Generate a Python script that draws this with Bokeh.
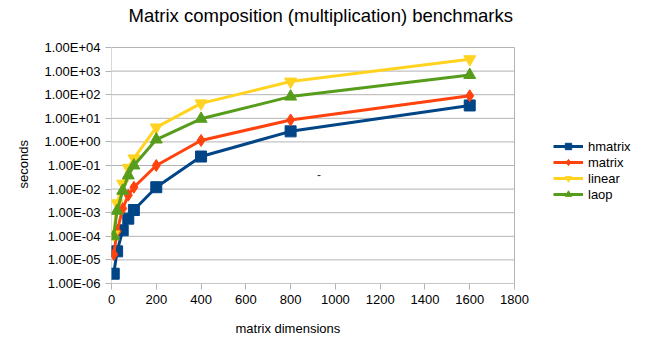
from bokeh.plotting import figure
from bokeh.models import (FixedTicker, CustomJSTickFormatter, Legend, LegendItem,
                          Label, Range1d, Title)
from bokeh.embed import file_html
from bokeh.resources import INLINE

# ---- data ----
sizes = [10, 25, 50, 75, 100, 200, 400, 800, 1600]
hmatrix = [2.6e-6, 2.3e-5, 1.8e-4, 5.6e-4, 1.3e-3, 1.2e-2, 0.24, 2.8, 35]
matrix = [1.7e-5, 1.6e-4, 1.5e-3, 5.5e-3, 1.2e-2, 0.1, 1.15, 8.5, 90]
linear = [1.2e-4, 2.5e-3, 1.7e-2, 8.0e-2, 0.2, 4.1, 43, 360, 3200]
laop = [1.0e-4, 1.2e-3, 8.5e-3, 3.8e-2, 0.1, 1.26, 9.5, 83, 680]

series_names = ["hmatrix", "matrix", "linear", "laop"]
x_ticks = [0, 200, 400, 600, 800, 1000, 1200, 1400, 1600, 1800]
y_ticks = [1e-6, 1e-5, 1e-4, 1e-3, 1e-2, 1e-1, 1e0, 1e1, 1e2, 1e3, 1e4]
y_tick_labels = ["1.00E-06", "1.00E-05", "1.00E-04", "1.00E-03", "1.00E-02",
                 "1.00E-01", "1.00E+00", "1.00E+01", "1.00E+02", "1.00E+03",
                 "1.00E+04"]

FONT = "Liberation Sans"
GRID = "#b3b3b3"

W, H = 645, 337
LEFT, RIGHT_EDGE, TOP, BOTTOM = 111, 514, 47, 283
FRAME_TOP = 25
# the frame spans to the right canvas edge (so the legend is not clipped) and a
# little above the top gridline (room for the title); the visible plot area is
# the rectangle bounded by the first/last ticks
x_end = x_ticks[0] + (x_ticks[-1] - x_ticks[0]) * (W - LEFT) / (RIGHT_EDGE - LEFT)
dec_per_px = 10 / (BOTTOM - TOP)
y_end = y_ticks[-1] * 10 ** ((TOP - FRAME_TOP) * dec_per_px)

p = figure(width=W, height=H, output_backend="svg", toolbar_location=None,
           y_axis_type="log", x_range=Range1d(x_ticks[0], x_end),
           y_range=Range1d(y_ticks[0], y_end),
           min_border_left=LEFT, min_border_right=0, min_border_top=FRAME_TOP,
           min_border_bottom=H - BOTTOM)

p.title.text = "Matrix composition (multiplication) benchmarks"
p.title.align = "left"
p.title.text_font = FONT
p.title.text_font_size = "18.5px"
p.title.text_font_style = "normal"
p.title.text_color = "#000000"
p.title.offset = 17
p.title.standoff = 0

p.outline_line_color = None
p.xgrid.grid_line_color = None
p.ygrid.grid_line_color = None

n = len(y_ticks)
# horizontal gridlines
p.segment(x0=[x_ticks[0]] * n, x1=[x_ticks[-1]] * n,
          y0=y_ticks, y1=y_ticks, line_color=GRID, line_width=1)
# left and right edges of the plot area
p.segment(x0=[x_ticks[0], x_ticks[-1]], x1=[x_ticks[0], x_ticks[-1]],
          y0=[y_ticks[0]] * 2, y1=[y_ticks[-1]] * 2,
          line_color=GRID, line_width=1)

p.xaxis.ticker = FixedTicker(ticks=x_ticks)
p.yaxis.ticker = FixedTicker(ticks=y_ticks)
p.yaxis.formatter = CustomJSTickFormatter(
    args=dict(vals=y_ticks, labs=y_tick_labels),
    code="""
    let best = 0, bd = 1e9;
    for (let i = 0; i < vals.length; i++) {
        const d = Math.abs(Math.log10(vals[i]) - Math.log10(tick));
        if (d < bd) { bd = d; best = i; }
    }
    return labs[best];
    """)

for ax in (p.xaxis[0], p.yaxis[0]):
    ax.axis_line_color = None
    ax.major_tick_line_color = GRID
    ax.minor_tick_line_color = None
    ax.major_tick_in = 0
    ax.major_tick_out = 6
    ax.major_label_text_font = FONT
    ax.major_label_text_font_size = "13px"
    ax.major_label_text_color = "#000000"
    ax.major_label_standoff = 5

# a blank axis label only reserves a little space below the tick labels
p.xaxis.axis_label = " "
p.xaxis.axis_label_text_font_size = "6px"
p.xaxis.axis_label_standoff = 3

p.segment(x0=[x_ticks[0]], x1=[x_ticks[-1]], y0=[y_ticks[0]], y1=[y_ticks[0]],
          line_color=GRID, line_width=1)

xlabel = Title(text="matrix dimensions", align="left", offset=124, standoff=0,
               text_font=FONT, text_font_size="13px", text_font_style="normal",
               text_color="#000000")
p.add_layout(xlabel, "below")

ylabel = Title(text="seconds", align="left", offset=95, standoff=22,
               text_font=FONT, text_font_size="13px", text_font_style="normal",
               text_color="#000000")
p.add_layout(ylabel, "left")

styles = [
    ("#004586", "square", 11),
    ("#ff420e", "diamond", 12),
    ("#ffd320", "inverted_triangle", 12),
    ("#579d1c", "triangle", 12),
]
data = [hmatrix, matrix, linear, laop]

items = []
for name, ys, (col, mk, sz) in zip(series_names, data, styles):
    l = p.line(sizes, ys, line_color=col, line_width=3)
    s = p.scatter(sizes, ys, marker=mk, size=sz, fill_color=col, line_color=col)
    items.append(LegendItem(label=name, renderers=[l, s]))

legend = Legend(items=items, location=(442, 81), padding=0, margin=0,
                spacing=0, glyph_width=30, glyph_height=16, label_height=16,
                label_standoff=5, label_text_font=FONT,
                label_text_font_size="13px", label_text_color="#000000",
                border_line_color=None, background_fill_alpha=0)
p.add_layout(legend)

p.add_layout(Label(x=927, y=0.042, text="-", text_font=FONT,
                   text_font_size="12px", text_color="#333333",
                   text_align="center", text_baseline="middle"))

open("out.html", "w").write(file_html(p, INLINE))
